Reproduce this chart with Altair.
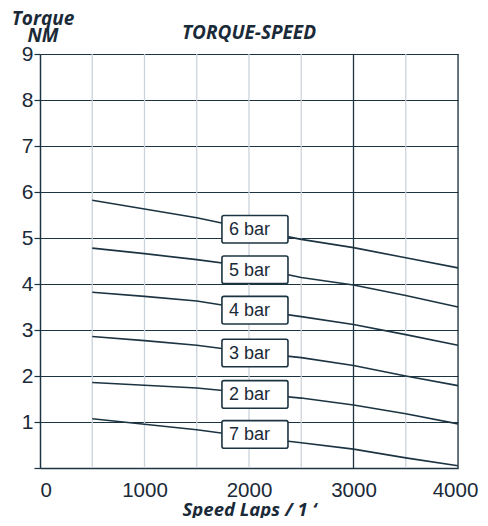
import altair as alt
import pandas as pd

# ---- data ----
speeds = [500, 1000, 1500, 2000, 2500, 3000, 3500, 4000]
torque_6bar = [5.82, 5.63, 5.44, 5.20, 4.97, 4.79, 4.57, 4.35]
torque_5bar = [4.78, 4.66, 4.53, 4.38, 4.14, 3.98, 3.75, 3.50]
torque_4bar = [3.82, 3.73, 3.63, 3.45, 3.29, 3.12, 2.90, 2.67]
torque_3bar = [2.86, 2.77, 2.67, 2.52, 2.40, 2.23, 2.00, 1.79]
torque_2bar = [1.86, 1.80, 1.74, 1.63, 1.52, 1.37, 1.18, 0.96]
torque_7bar = [1.07, 0.95, 0.83, 0.68, 0.55, 0.41, 0.22, 0.05]

series_names = ["6 bar", "5 bar", "4 bar", "3 bar", "2 bar", "7 bar"]
series_values = [torque_6bar, torque_5bar, torque_4bar, torque_3bar, torque_2bar, torque_7bar]
label_centers = [5.19, 4.31, 3.43, 2.50, 1.60, 0.73]

x_ticks = [0, 1000, 2000, 3000, 4000]
y_ticks = [0, 1, 2, 3, 4, 5, 6, 7, 8, 9]
grid_light = [500, 1000, 1500, 2000, 2500, 3500]
grid_dark = [3000, 4000]

# ---- styling ----
DARK = "#1c3442"
LIGHT = "#cbd3db"
TEXT = "#1b2a38"
LABEL_X0 = 1741
LABEL_X1 = 2373
HALF_H = 0.30

rows = []
for name, vals in zip(series_names, series_values):
    for s, v in zip(speeds, vals):
        rows.append({"series": name, "speed": s, "torque": v})
lines_df = pd.DataFrame(rows)

labels_df = pd.DataFrame({
    "series": series_names,
    "yc": label_centers,
})
labels_df["y0"] = labels_df["yc"] - HALF_H
labels_df["y1"] = labels_df["yc"] + HALF_H
labels_df["x0"] = LABEL_X0
labels_df["x1"] = LABEL_X1

vgrid_df = pd.DataFrame({
    "x": grid_light + grid_dark,
    "kind": ["light"] * len(grid_light) + ["dark"] * len(grid_dark),
})

xscale = alt.Scale(domain=[0, 4000], nice=False, zero=False)
yscale = alt.Scale(domain=[0, 9], nice=False)

x_axis = alt.Axis(
    values=x_ticks, format="d", grid=False, ticks=False, domain=True, domainColor=DARK, domainWidth=1.5,
    labelFont="Liberation Sans", labelFontSize=20.5, labelColor=TEXT, labelPadding=12,
    labelAlign={"condition": {"test": "datum.value == 0", "value": "left"}, "value": "center"},
    labelOffset={"condition": {"test": "datum.value == 4000", "value": -3}, "value": 0},
    labelBound=False,
    title="Speed Laps / 1 \u2018", titleFont="Open Sans", titleFontStyle="italic",
    titleFontWeight="bold", titleFontSize=18.5, titleColor=TEXT, titlePadding=0,
)
y_axis = alt.Axis(
    values=y_ticks, labelExpr="datum.value == 0 ? '' : datum.label",
    grid=True, gridColor=DARK, gridWidth=1.2, tickColor=DARK, tickSize=6, tickWidth=1.2,
    domainColor=DARK, domainWidth=1.5,
    labelFont="Liberation Sans", labelFontSize=21, labelColor=TEXT, labelPadding=1,
    title=["Torque", "NM"], titleAngle=0, titleFont="Open Sans", titleFontStyle="italic",
    titleFontWeight="bold", titleFontSize=19, titleColor=TEXT, titleX=2.5, titleY=-30,
    titleAlign="center", titleBaseline="alphabetic", titleLineHeight=17.5,
)

vgrid = alt.Chart(vgrid_df).mark_rule(strokeWidth=1.3).encode(
    x=alt.X("x:Q", scale=xscale, axis=x_axis),
    color=alt.Color("kind:N", scale=alt.Scale(domain=["light", "dark"], range=[LIGHT, DARK]), legend=None),
)

base_y = alt.Y("torque:Q", scale=yscale, axis=y_axis)

lines = alt.Chart(lines_df).mark_line(color=DARK, strokeWidth=1.6).encode(
    x=alt.X("speed:Q", scale=xscale, axis=x_axis),
    y=base_y,
    detail="series:N",
)

boxes = alt.Chart(labels_df).mark_rect(
    fill="white", stroke=DARK, strokeWidth=1.6, cornerRadius=2
).encode(
    x=alt.X("x0:Q", scale=xscale),
    x2="x1:Q",
    y=alt.Y("y0:Q", scale=yscale),
    y2="y1:Q",
)

texts = alt.Chart(labels_df).mark_text(
    font="Liberation Sans", fontSize=18, color=TEXT, align="left", baseline="middle", dx=7, dy=1
).encode(
    x=alt.X("x0:Q", scale=xscale),
    y=alt.Y("yc:Q", scale=yscale),
    text="series:N",
)

chart = alt.layer(vgrid, lines, boxes, texts).properties(
    width=418,
    height=414,
    title=alt.TitleParams(
        "TORQUE-SPEED", font="Open Sans", fontStyle="italic", fontWeight="bold",
        fontSize=19, color=TEXT, anchor="middle", offset=0, dy=34,
    ),
    autosize=alt.AutoSizeParams(type="none"),
    padding={"left": 32, "top": 46, "right": 22, "bottom": 50},
).configure_view(stroke=None).configure(background="white")

chart.save("out.html", embed_options={"renderer": "svg", "actions": False})
